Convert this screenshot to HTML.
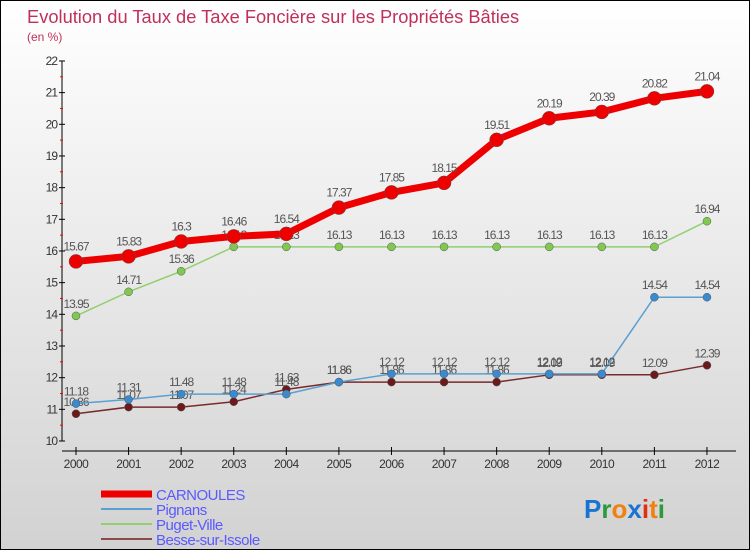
<!DOCTYPE html>
<html><head><meta charset="utf-8"><style>
body{margin:0}
#c{width:750px;height:550px;position:relative;box-sizing:border-box;border:1px solid #000;background:linear-gradient(#fff,#d2d2d2);font-family:"Liberation Sans",sans-serif;overflow:hidden}
svg text{font-family:"Liberation Sans",sans-serif}
</style></head><body>
<div id="c">
<svg id="s" width="750" height="550">
<text x="26" y="22" font-size="18.3" fill="#c0305a">Evolution du Taux de Taxe Foncière sur les Propriétés Bâties</text>
<text x="26" y="40" font-size="12" fill="#c0305a">(en %)</text>
<g><text x="583" y="517" font-size="26" font-weight="bold"><tspan fill="#1a73d0">P</tspan><tspan fill="#2a9a3a">r</tspan><tspan fill="#f08010">o</tspan><tspan fill="#1a73d0">x</tspan><tspan fill="#e03010">i</tspan><tspan fill="#f08010">t</tspan><tspan fill="#2a9a3a">i</tspan></text></g>
</svg>
</div>
<script>
const years=["2000","2001","2002","2003","2004","2005","2006","2007","2008","2009","2010","2011","2012"];
const carnoules=[15.67,15.83,16.3,16.46,16.54,17.37,17.85,18.15,19.51,20.19,20.39,20.82,21.04];
const pignans=[11.18,11.31,11.48,11.48,11.48,11.86,12.12,12.12,12.12,12.12,12.12,14.54,14.54];
const puget=[13.95,14.71,15.36,16.13,16.13,16.13,16.13,16.13,16.13,16.13,16.13,16.13,16.94];
const besse=[10.86,11.07,11.07,11.24,11.63,11.86,11.86,11.86,11.86,12.09,12.09,12.09,12.39];
const yTicks=[10,11,12,13,14,15,16,17,18,19,20,21,22];
const NS="http://www.w3.org/2000/svg";
const s=document.getElementById('s');
function X(i){return 75+i*52.58;}
function Y(v){return 440-(v-10)*31.67;}
function mk(t,a,p){const e=document.createElementNS(NS,t);for(const k in a)e.setAttribute(k,a[k]);(p||s).appendChild(e);return e;}
const ax=mk('g',{});


mk('line',{x1:61,y1:60,x2:61,y2:440,stroke:'#000'},ax);
mk('line',{x1:61,y1:450,x2:735,y2:450,stroke:'#000'},ax);
yTicks.forEach(v=>{
  mk('line',{x1:58,y1:Y(v),x2:64,y2:Y(v),stroke:'#000'},ax);
  if(v<22)mk('line',{x1:59,y1:Y(v+0.5),x2:62,y2:Y(v+0.5),stroke:'#f00'},ax);
  const t=mk('text',{x:56,y:Y(v)+4,'font-size':12,'text-anchor':'end',fill:'#333','letter-spacing':'-1'},ax);
  t.textContent=v;
  
  
});
years.forEach((y,i)=>{
  mk('line',{x1:X(i),y1:446,x2:X(i),y2:454,stroke:'#000'},ax);
  const t=mk('text',{x:X(i),y:467,'font-size':12,'text-anchor':'middle',fill:'#333','letter-spacing':'-0.5'},ax);
  t.textContent=y;
  
  
});
function series(data,color,w,r,name,dot,off){
  const g=mk('g',{});
  
  
  mk('polyline',{points:data.map((v,i)=>X(i)+','+Y(v)).join(' '),fill:'none',stroke:color,'stroke-width':w,'stroke-linejoin':'round'},g);
  data.forEach((v,i)=>{
    const c=mk('circle',{cx:X(i),cy:Y(v),r:r,fill:dot,stroke:'#555','stroke-width':0.5},g);
    
    
    const t=mk('text',{x:X(i),y:Y(v)-off,'font-size':12,'text-anchor':'middle',fill:'#555','letter-spacing':'-1'},g);
    t.textContent=v;
    
    
  });
}
series(besse,'#7a2a2a',1.5,4,'besse-series','#6a1a1a',8);
series(pignans,'#5aa0d0',1.5,4,'pignans-series','#3a8ad0',8);
series(puget,'#90d070',1.5,4,'puget-series','#80c850',8);
series(carnoules,'#ee0000',7,7,'carnoules-series','#ee0000',11);
const lg=mk('g',{});


[['CARNOULES','#ee0000',7],['Pignans','#5aa0d0',2],['Puget-Ville','#90d070',2],['Besse-sur-Issole','#8a4a4a',2]].forEach((d,i)=>{
  const y=493+i*15;
  mk('line',{x1:100,y1:y,x2:151,y2:y,stroke:d[1],'stroke-width':d[2]},lg);
  const t=mk('text',{x:155,y:y+6,'font-size':15,fill:'#5a5aff','letter-spacing':'-0.5'},lg);
  t.textContent=d[0];
  
  
});
</script>
</body></html>
